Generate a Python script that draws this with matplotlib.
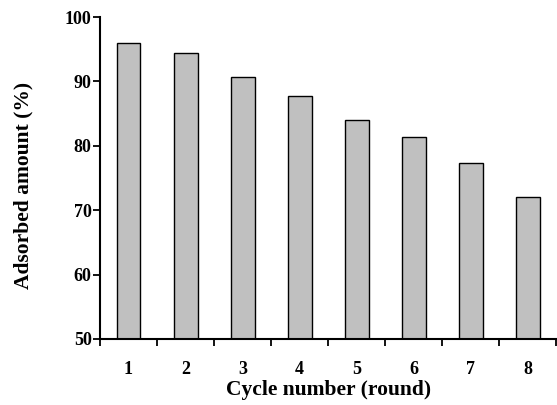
import matplotlib

matplotlib.use("Agg")
import matplotlib.pyplot as plt
from matplotlib.ticker import FixedLocator

# adsorption capacity retained per regeneration cycle
cycles = ["1", "2", "3", "4", "5", "6", "7", "8"]
adsorbed = [95.9, 94.4, 90.7, 87.7, 84.0, 81.3, 77.4, 72.1]

plt.rcParams["font.family"] = ["Liberation Serif", "DejaVu Serif"]
plt.rcParams["font.weight"] = "bold"

fig = plt.figure(figsize=(5.57, 4.05), dpi=100)
ax = fig.add_axes([0.1795, 0.163, 0.8195, 0.795])

x = list(range(len(cycles)))
ax.bar(x, adsorbed, width=0.42, color="#c0c0c0", edgecolor="black",
       linewidth=1.0, zorder=2)

ax.set_ylim(50, 100)
ax.set_xlim(-0.5, len(cycles) - 0.5)
ax.set_yticks([50, 60, 70, 80, 90, 100])

# category labels at centres, tick marks between categories
ax.set_xticks(x)
ax.set_xticklabels(cycles)
ax.tick_params(axis="x", which="major", length=0, pad=16)
ax.xaxis.set_minor_locator(FixedLocator([i - 0.5 for i in range(len(cycles) + 1)]))
ax.tick_params(axis="x", which="minor", length=5, width=1.3, direction="out")
ax.tick_params(axis="y", length=5, width=1.3, direction="out", pad=1)

for lbl in ax.get_xticklabels() + ax.get_yticklabels():
    lbl.set_fontsize(13)
    lbl.set_fontweight("bold")

ax.spines["top"].set_visible(False)
ax.spines["right"].set_visible(False)
ax.spines["left"].set_linewidth(1.5)
ax.spines["bottom"].set_linewidth(1.5)

ax.set_xlabel("Cycle number (round)", fontsize=15.5, fontweight="bold", labelpad=1)
ax.set_ylabel("Adsorbed amount (%)", fontsize=15.5, fontweight="bold")
ax.yaxis.set_label_coords(-0.145, 0.478)

fig.savefig("out.png", dpi=100)
